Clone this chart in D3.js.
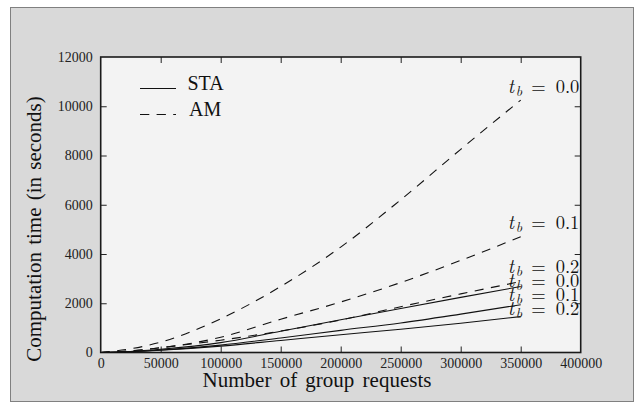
<!DOCTYPE html>
<html>
<head>
<meta charset="utf-8">
<script src="https://cdn.jsdelivr.net/npm/d3@7"></script>
<style>
  html, body { margin: 0; padding: 0; background: #ffffff; }
  svg { display: block; }
  text { font-family: "Liberation Serif", "Times New Roman", Times, serif; }
  text.math { font-family: "Latin Modern Roman", "Liberation Serif", serif; }
</style>
</head>
<body>
<svg id="chart" width="642" height="407"></svg>
<script>
// ---- data ----
const requests = [0, 25000, 50000, 100000, 150000, 200000, 250000, 300000, 350000];
const amTb00  = [0, 150, 420, 1370, 2680, 4280, 6200, 8250, 10250];
const amTb01  = [0, 70, 190, 620, 1350, 2050, 2840, 3740, 4700];
const amTb02  = [0, 60, 200, 500, 870, 1320, 1860, 2380, 2880];
const staTb00 = [0, 40, 130, 400, 860, 1330, 1790, 2240, 2680];
const staTb01 = [0, 35, 100, 300, 590, 900, 1200, 1560, 1940];
const staTb02 = [0, 30, 90, 260, 490, 720, 945, 1190, 1460];
const xTicks = [0, 50000, 100000, 150000, 200000, 250000, 300000, 350000, 400000];
const yTicks = [0, 2000, 4000, 6000, 8000, 10000, 12000];
const curveLabels = ["0.0", "0.1", "0.2", "0.0", "0.1", "0.2"];
const curveLabelY = [10550, 5020, 3230, 2660, 2090, 1520];
const legendNames = ["STA", "AM"];

const series = [
  {values: amTb00, dashed: true},
  {values: amTb01, dashed: true},
  {values: amTb02, dashed: true},
  {values: staTb00, dashed: false},
  {values: staTb01, dashed: false},
  {values: staTb02, dashed: false}
];

const svg = d3.select("#chart");
const L = 100.7, R = 580.7, T = 57, B = 352.5;
const x = d3.scaleLinear().domain([0, 400000]).range([L, R]);
const y = d3.scaleLinear().domain([0, 12000]).range([B, T]);

// outer frame
svg.append("rect").attr("x", 10.5).attr("y", 7.5).attr("width", 623).attr("height", 394)
  .attr("fill", "#d9d9d9").attr("stroke", "#808080").attr("stroke-width", 1);

// plot background
svg.append("rect").attr("x", L).attr("y", T).attr("width", R - L).attr("height", B - T)
  .attr("fill", "#f3f3f3");

// axes
const gx = svg.append("g").attr("transform", `translate(0,${B})`)
  .call(d3.axisBottom(x).tickValues(xTicks).tickFormat(d3.format("d")).tickSize(-6).tickPadding(6));
const gxTop = svg.append("g").attr("transform", `translate(0,${T})`)
  .call(d3.axisTop(x).tickValues(xTicks.slice(1, -1)).tickFormat("").tickSize(-6));
const gy = svg.append("g").attr("transform", `translate(${L},0)`)
  .call(d3.axisLeft(y).tickValues(yTicks).tickFormat(d3.format("d")).tickSize(-6).tickPadding(8));
const gyRight = svg.append("g").attr("transform", `translate(${R},0)`)
  .call(d3.axisRight(y).tickValues(yTicks.slice(1, -1)).tickFormat("").tickSize(-6));

[gx, gxTop, gy, gyRight].forEach(g => {
  g.attr("font-family", null);
  g.select(".domain").remove();
  g.selectAll(".tick line").attr("stroke", "#222").attr("stroke-width", 1);
  g.selectAll(".tick text").attr("font-size", 14).attr("fill", "#222");
});
gx.selectAll(".tick line").filter(d => d === 0 || d === 400000).remove();
gy.selectAll(".tick line").filter(d => d === 0 || d === 12000).remove();

// plot border
svg.append("rect").attr("x", L).attr("y", T).attr("width", R - L).attr("height", B - T)
  .attr("fill", "none").attr("stroke", "#1a1a1a").attr("stroke-width", 1.6);

// curves
const line = d3.line().x((d, i) => x(requests[i])).y(d => y(d)).curve(d3.curveMonotoneX);
svg.append("g").selectAll("path").data(series).join("path")
  .attr("d", s => line(s.values))
  .attr("fill", "none")
  .attr("stroke", "#111")
  .attr("stroke-width", 1.1)
  .attr("stroke-dasharray", s => s.dashed ? "9,7.5" : null);

// curve labels  t_b = value
const lg = svg.append("g");
curveLabels.forEach((lab, i) => {
  const x0 = x(339300);
  const by = y(curveLabelY[i]);
  lg.append("text").attr("class", "math").attr("x", x0).attr("y", by)
    .attr("font-style", "italic").attr("font-size", 19).attr("fill", "#111")
    .text("t");
  lg.append("text").attr("class", "math").attr("x", x0 + 8).attr("y", by + 3)
    .attr("font-style", "italic").attr("font-size", 14).attr("fill", "#111")
    .text("b");
  lg.append("text").attr("class", "math").attr("x", x0 + 23.5).attr("y", by)
    .attr("font-size", 18.5).attr("fill", "#111")
    .text("=");
  lg.append("text").attr("class", "math").attr("x", x0 + 71.5).attr("y", by).attr("text-anchor", "end")
    .attr("font-size", 18.5).attr("fill", "#111")
    .text(lab);
});

// legend
const leg = svg.append("g");
legendNames.forEach((name, i) => {
  const ly = 88.5 + i * 26;
  leg.append("line").attr("x1", 140).attr("x2", 176).attr("y1", ly).attr("y2", ly)
    .attr("stroke", "#111").attr("stroke-width", 1.1)
    .attr("stroke-dasharray", i === 1 ? "9.3,7.3" : null);
  leg.append("text").attr("x", i === 1 ? 189 : 187.5).attr("y", ly + 1.5)
    .attr("font-size", 20).attr("fill", "#111")
    .text(name);
});

// axis titles
svg.append("text").attr("x", 317).attr("y", 387).attr("text-anchor", "middle")
  .attr("font-size", 21).attr("word-spacing", 3).attr("fill", "#111")
  .text("Number of group requests");
svg.append("text").attr("transform", "translate(41,229) rotate(-90)").attr("text-anchor", "middle")
  .attr("font-size", 21).attr("word-spacing", 2).attr("fill", "#111")
  .text("Computation time (in seconds)");
</script>
</body>
</html>
